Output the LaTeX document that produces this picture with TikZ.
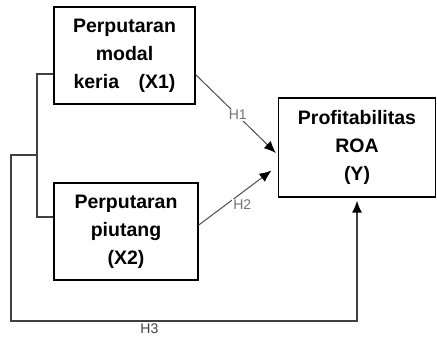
\documentclass[tikz,border=0pt]{standalone}
\usepackage{fontspec}
\setmainfont{Liberation Sans}
\usetikzlibrary{arrows.meta}

\begin{document}
\begin{tikzpicture}[x=1pt,y=-1pt,
    var/.style={draw,line width=1.2pt,rectangle,align=center,font=\bfseries\fontsize{19.5}{28}\selectfont},
    hyp/.style={font=\fontsize{14}{14}\selectfont,fill=white,inner sep=1pt},
    arr/.style={-{Latex[length=12pt,width=10pt,color=black]}}]
    \useasboundingbox (0,0) rectangle (437,339);

    \node[var,minimum width=141pt,minimum height=97pt] (x1) at (124.5,55.5) {Perputaran\\modal\\keria\quad(X1)};
    \node[var,minimum width=144pt,minimum height=97pt] (x2) at (126,231.5) {Perputaran\\piutang\\(X2)};
    \node[var,minimum width=157pt,minimum height=99pt] (y) at (357,147.5) {Profitabilitas\\ROA\\(Y)};

    \coordinate (b1) at (37,74);
    \coordinate (b2) at (37,217);
    \coordinate (b0) at (37,155);
    \coordinate (c0) at (11,155);
    \coordinate (c1) at (11,321);

    \draw[line width=1.3pt,black!75] (x1.west |- b1) -- (b1) -- (b2) -- (x2.west |- b2);
    \draw[arr,line width=1.4pt,black!75] (b0) -- (c0) -- (c1) -- node[pos=0.4,below=1pt,hyp,fill=none,text=black!75] {H3} (y.south |- c1) -- ([yshift=-3pt]y.south);

    \draw[arr,line width=1pt,black!70] (x1.-15) -- node[pos=0.55,hyp,xshift=-2pt,yshift=3pt,text=black!55] {H1} ([xshift=-2pt]y.184);
    \draw[arr,line width=1pt,black!70,shorten >=8pt] (x2.5) -- node[pos=0.55,hyp,yshift=-12pt,text=black!55] {H2} (y.193);
\end{tikzpicture}
\end{document}
